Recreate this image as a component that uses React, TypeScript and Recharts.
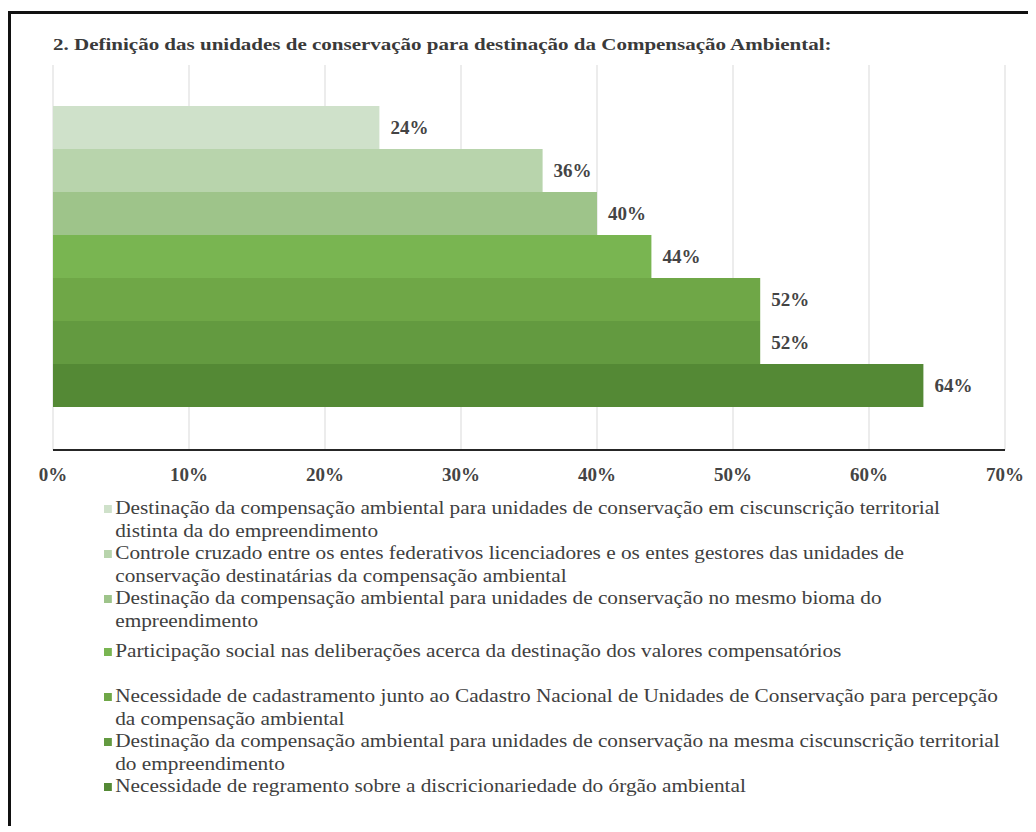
import { BarChart, Bar, XAxis, YAxis, CartesianGrid, LabelList } from 'recharts';

// uma única categoria, sete séries (cada critério é uma série)
const categories = ['Definição das unidades de conservação'];

const seriesNames = [
  'Destinação da compensação ambiental para unidades de conservação em ciscunscrição territorial\ndistinta da do empreendimento',
  'Controle cruzado entre os entes federativos licenciadores e os entes gestores das unidades de\nconservação destinatárias da compensação ambiental',
  'Destinação da compensação ambiental para unidades de conservação no mesmo bioma do\nempreendimento',
  'Participação social nas deliberações acerca da destinação dos valores compensatórios',
  'Necessidade de cadastramento junto ao Cadastro Nacional de Unidades de Conservação para percepção\nda compensação ambiental',
  'Destinação da compensação ambiental para unidades de conservação na mesma ciscunscrição territorial\ndo empreendimento',
  'Necessidade de regramento sobre a discricionariedade do órgão ambiental',
];

const seriesValues = [24, 36, 40, 44, 52, 52, 64];

const xTicks = [0, 10, 20, 30, 40, 50, 60, 70];

const barColors = ['#cfe1ca', '#b8d4ac', '#9ec48a', '#79b551', '#6fa747', '#639a40', '#548935'];

const chartData = categories.map((cat) => {
  const row: Record<string, string | number> = { name: cat };
  seriesValues.forEach((v, i) => {
    row[`s${i}`] = v;
  });
  return row;
});

const serif = '"Liberation Serif", "Times New Roman", serif';

export default function App() {
  return (
    <div
      style={{
        position: 'relative',
        marginTop: 3,
        width: 1020,
        height: 815,
        borderTop: '3px solid #111',
        borderLeft: '3px solid #111',
        boxSizing: 'border-box',
        background: '#fff',
        fontFamily: serif,
      }}
    >
      <div
        style={{
          position: 'absolute',
          left: 42,
          top: 21,
          fontSize: 17,
          lineHeight: '20px',
          fontWeight: 'bold',
          color: '#3a3a3a',
          whiteSpace: 'nowrap',
          transform: 'scaleX(1.235)',
          transformOrigin: 'left center',
        }}
      >
        2. Definição das unidades de conservação para destinação da Compensação Ambiental:
      </div>

      <div style={{ position: 'absolute', left: 0, top: 0 }}>
        <BarChart
          width={1017}
          height={480}
          data={chartData}
          layout="vertical"
          margin={{ top: 51, right: 23, bottom: 14, left: 42 }}
          barCategoryGap={41}
          barGap={0}
        >
          <CartesianGrid horizontal={false} stroke="#d9d9d9" />
          <XAxis
            type="number"
            domain={[0, 70]}
            ticks={xTicks}
            tickFormatter={(v) => `${v}%`}
            axisLine={{ stroke: '#262626', strokeWidth: 2 }}
            tickLine={false}
            tickMargin={12}
            height={30}
            tick={{ fontFamily: serif, fontSize: 19, fontWeight: 'bold', fill: '#444' }}
          />
          <YAxis type="category" dataKey="name" hide />
          {seriesValues.map((_, i) => (
            <Bar key={i} dataKey={`s${i}`} name={seriesNames[i]} fill={barColors[i]} isAnimationActive={false}>
              <LabelList
                dataKey={`s${i}`}
                position="right"
                offset={11}
                formatter={(v: any) => `${v}%`}
                style={{ fontFamily: serif, fontSize: 19, fontWeight: 'bold', fill: '#444' }}
              />
            </Bar>
          ))}
        </BarChart>
      </div>

      <div
        style={{
          position: 'absolute',
          left: 93,
          top: 483,
          fontSize: 19,
          lineHeight: '22.5px',
          color: '#404040',
          transform: 'scaleX(1.12)',
          transformOrigin: 'left top',
        }}
      >
        {seriesNames.map((name, i) => (
          <div key={i} style={{ position: 'relative', minHeight: 45, paddingTop: i === 3 ? 8 : 0, paddingLeft: 10 }}>
            <span
              style={{
                position: 'absolute',
                left: 0,
                top: (i === 3 ? 8 : 0) + 8,
                width: 7,
                height: 8,
                background: barColors[i],
              }}
            />
            <div style={{ whiteSpace: 'pre-line' }}>{name}</div>
          </div>
        ))}
      </div>
    </div>
  );
}
